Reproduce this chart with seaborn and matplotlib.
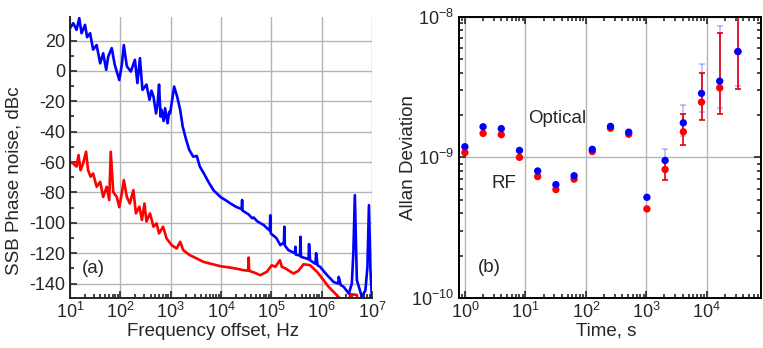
import numpy as np
import pandas as pd
import matplotlib
matplotlib.use('Agg')
import matplotlib.pyplot as plt
import matplotlib.ticker as mticker
import seaborn as sns

sns.set_style("ticks")
plt.rcParams['font.family'] = ['Liberation Sans', 'DejaVu Sans']
plt.rcParams['axes.unicode_minus'] = False
plt.rcParams['mathtext.default'] = 'regular'

# --- (a) phase noise spectra, frequency given as decade exponent (log10 Hz) ---
blue_decade = [1.00, 1.066, 1.13, 1.185, 1.23, 1.30, 1.34, 1.40, 1.46, 1.53, 1.60, 1.66,
               1.72, 1.76, 1.83, 1.89, 1.98, 2.03, 2.07, 2.13, 2.21, 2.29, 2.34, 2.39,
               2.44, 2.52, 2.58, 2.62, 2.66, 2.71, 2.74, 2.77, 2.80, 2.82, 2.86, 2.89,
               2.92, 2.94, 2.97, 2.99, 3.07, 3.13, 3.19, 3.24, 3.31, 3.37, 3.45, 3.52,
               3.58, 3.66, 3.75, 3.85, 3.99, 4.11, 4.19, 4.30, 4.41, 4.42, 4.43, 4.55,
               4.62, 4.65, 4.72, 4.85, 4.93, 4.97, 4.98, 4.99, 5.10, 5.18, 5.25, 5.26,
               5.27, 5.34, 5.47, 5.48, 5.49, 5.57, 5.58, 5.59, 5.70, 5.74, 5.75, 5.77,
               5.85, 5.88, 5.89, 5.92, 5.97, 6.11, 6.24, 6.33, 6.34, 6.38, 6.44, 6.54,
               6.60, 6.63, 6.66, 6.70, 6.80, 6.87, 6.91, 6.94, 6.97, 7.00]
blue_dbc = [28.1, 31.4, 27.0, 34.7, 24.8, 30.3, 22.2, 24.8, 14.0, 17.0, 5.0, 11.6,
            0.7, 9.5, 15.0, 4.0, -6.0, 4.0, 17.0, 3.0, -0.4, 7.3, -8.0, 8.4,
            -12.5, -9.0, -19.0, -13.0, -17.0, -28.0, -22.0, -9.0, -30.0, -25.7, -33.0, -24.6,
            -31.0, -34.5, -27.0, -28.0, -10.3, -17.0, -25.7, -36.7, -45.5, -52.0, -56.5, -56.0,
            -63.0, -67.5, -73.0, -78.5, -83.0, -85.5, -87.3, -89.5, -91.0, -85.0, -92.0, -94.5,
            -97.0, -96.5, -99.0, -101.5, -104.0, -105.0, -95.0, -107.0, -110.0, -114.7, -113.0, -102.6,
            -115.0, -118.0, -120.0, -115.8, -121.0, -121.5, -109.2, -122.4, -123.5, -124.0, -114.0, -124.6,
            -126.5, -127.0, -120.0, -128.0, -129.0, -134.5, -139.0, -140.0, -135.6, -141.0, -142.2, -146.6,
            -140.0, -120.0, -81.8, -137.8, -148.8, -144.4, -129.0, -88.4, -131.2, -150.0]

red_decade = [1.00, 1.066, 1.13, 1.17, 1.21, 1.26, 1.32, 1.36, 1.41, 1.46, 1.53, 1.60,
              1.66, 1.73, 1.78, 1.81, 1.86, 1.93, 1.98, 2.03, 2.07, 2.13, 2.19, 2.26,
              2.31, 2.38, 2.43, 2.48, 2.52, 2.59, 2.66, 2.72, 2.77, 2.85, 2.92, 3.02,
              3.12, 3.19, 3.25, 3.38, 3.52, 3.65, 3.78, 3.99, 4.19, 4.35, 4.45, 4.54,
              4.55, 4.56, 4.68, 4.78, 4.91, 5.01, 5.08, 5.17, 5.21, 5.28, 5.44, 5.54,
              5.64, 5.77, 5.91, 6.04, 6.14, 6.27, 6.40, 6.55, 6.57, 6.70, 6.72, 7.00]
red_dbc = [-60.0, -61.0, -63.0, -55.4, -65.4, -61.0, -53.2, -65.4, -69.7, -67.5, -76.3, -73.0,
           -83.0, -76.3, -85.0, -53.2, -79.8, -83.0, -89.7, -80.6, -71.9, -83.0, -87.3, -78.5,
           -93.8, -89.4, -98.1, -87.3, -99.2, -93.8, -102.6, -100.4, -107.0, -102.6, -110.3, -114.7,
           -116.9, -112.5, -118.0, -121.3, -123.5, -125.7, -126.8, -128.6, -129.5, -130.5, -131.2, -131.5,
           -122.9, -131.6, -133.0, -134.5, -132.3, -127.9, -129.0, -124.6, -129.0, -130.0, -133.4, -131.6,
           -127.3, -127.9, -132.3, -137.8, -142.2, -146.6, -151.0, -151.0, -147.0, -147.5, -151.0, -151.0]

# --- (b) Allan deviation ---
tau = [1, 2, 4, 8, 16, 32, 64, 128, 256, 512, 1024, 2048, 4096, 8192, 16384, 32768]
optical = [1.19e-9, 1.65e-9, 1.60e-9, 1.12e-9, 0.80e-9, 0.64e-9, 0.74e-9, 1.14e-9,
           1.66e-9, 1.51e-9, 0.52e-9, 0.95e-9, 1.76e-9, 2.85e-9, 3.48e-9, 5.65e-9]
rf = [1.08e-9, 1.48e-9, 1.45e-9, 1.00e-9, 0.73e-9, 0.59e-9, 0.70e-9, 1.10e-9,
      1.61e-9, 1.46e-9, 0.43e-9, 0.82e-9, 1.52e-9, 2.47e-9, 3.12e-9, 5.65e-9]
err_tau = [2048, 4096, 8192, 16384, 32768]
optical_low = [0.80e-9, 1.43e-9, 2.10e-9, 2.24e-9, 3.20e-9]
optical_high = [1.15e-9, 2.36e-9, 4.62e-9, 8.60e-9, 1.3e-8]
rf_low = [0.695e-9, 1.22e-9, 1.83e-9, 2.02e-9, 3.08e-9]
rf_high = [0.98e-9, 2.03e-9, 3.99e-9, 7.60e-9, 1.3e-8]

spec_blue = pd.DataFrame({'freq': 10 ** np.array(blue_decade), 'dBc': blue_dbc})
spec_red = pd.DataFrame({'freq': 10 ** np.array(red_decade), 'dBc': red_dbc})
# RF rows first so the optical dots end up on top
adev = pd.DataFrame({'tau': tau * 2, 'adev': rf + optical,
                     'kind': ['RF'] * len(tau) + ['Optical'] * len(tau)})

fig = plt.figure(figsize=(7.63, 3.48), dpi=100)
ax1 = fig.add_axes([0.0917, 0.1437, 0.3958, 0.8075])
ax2 = fig.add_axes([0.6016, 0.1437, 0.3958, 0.8083])

grid_kw = dict(color='#b4b4b4', linewidth=1.0)

# panel (a)
sns.lineplot(data=spec_red, x='freq', y='dBc', ax=ax1, color='red', lw=1.9,
             sort=False, estimator=None)
sns.lineplot(data=spec_blue, x='freq', y='dBc', ax=ax1, color='blue', lw=1.9,
             sort=False, estimator=None)
ax1.set_xscale('log')
ax1.set_xlim(10, 1e7)
ax1.set_ylim(-149.5, 35.5)
ax1.yaxis.set_major_locator(mticker.MultipleLocator(20))
ax1.yaxis.set_minor_locator(mticker.MultipleLocator(10))
ax1.xaxis.set_major_locator(mticker.LogLocator(base=10, numticks=10))
ax1.xaxis.set_minor_locator(mticker.LogLocator(base=10, subs=np.arange(2, 10), numticks=10))
ax1.xaxis.set_minor_formatter(mticker.NullFormatter())
ax1.grid(True, which='major', **grid_kw)
ax1.set_axisbelow(True)
sns.despine(ax=ax1)
for s in ['left', 'bottom']:
    ax1.spines[s].set_linewidth(1.4)
ax1.tick_params(which='both', direction='in', labelsize=13, width=1.2)
ax1.tick_params(which='major', length=5)
ax1.tick_params(which='minor', length=3)
ax1.tick_params(axis='x', pad=3)
ax1.set_xlabel('Frequency offset, Hz', fontsize=13.5)
ax1.xaxis.set_label_coords(0.473, -0.088)
ax1.set_ylabel('SSB Phase noise, dBc', fontsize=13.5)
ax1.yaxis.set_label_coords(-0.158, 0.416)
ax1.text(0.04, 0.105, '(a)', transform=ax1.transAxes, fontsize=13.5, va='center')

# panel (b)
ax2.errorbar(err_tau, optical[-5:],
             yerr=[np.array(optical[-5:]) - np.array(optical_low),
                   np.array(optical_high) - np.array(optical[-5:])],
             fmt='none', ecolor='blue', alpha=0.3, elinewidth=1.1, capsize=2.5, capthick=1.1)
ax2.errorbar(err_tau, rf[-5:],
             yerr=[np.array(rf[-5:]) - np.array(rf_low),
                   np.array(rf_high) - np.array(rf[-5:])],
             fmt='none', ecolor='#e00010', elinewidth=1.2, capsize=2.5, capthick=1.2)
sns.scatterplot(data=adev, x='tau', y='adev', hue='kind',
                palette={'Optical': 'blue', 'RF': 'red'}, s=28, edgecolor='none',
                legend=False, ax=ax2, zorder=3)
ax2.set_xscale('log')
ax2.set_yscale('log')
ax2.set_xlim(0.8, 7.9e4)
ax2.set_ylim(1e-10, 1e-8)
ax2.xaxis.set_major_locator(mticker.LogLocator(base=10, numticks=10))
ax2.xaxis.set_minor_locator(mticker.LogLocator(base=10, subs=np.arange(2, 10), numticks=10))
ax2.xaxis.set_minor_formatter(mticker.NullFormatter())
ax2.yaxis.set_minor_formatter(mticker.NullFormatter())
ax2.grid(True, which='major', **grid_kw)
ax2.set_axisbelow(True)
for s in ax2.spines.values():
    s.set_linewidth(1.4)
    s.set_color('black')
ax2.tick_params(which='both', direction='in', top=True, right=True, labelsize=13, width=1.2)
ax2.tick_params(which='major', length=5)
ax2.tick_params(which='minor', length=3)
ax2.tick_params(axis='x', pad=3)
ax2.set_xlabel('Time, s', fontsize=13.5)
ax2.xaxis.set_label_coords(0.488, -0.088)
ax2.set_ylabel('Allan Deviation', fontsize=13.5)
ax2.yaxis.set_label_coords(-0.138, 0.5)
ax2.text(0.063, 0.107, '(b)', transform=ax2.transAxes, fontsize=13.5, va='center')
ax2.text(0.228, 0.637, 'Optical', transform=ax2.transAxes, fontsize=13.5, va='center')
ax2.text(0.109, 0.406, 'RF', transform=ax2.transAxes, fontsize=13.5, va='center')

fig.savefig('out.png', dpi=100)
